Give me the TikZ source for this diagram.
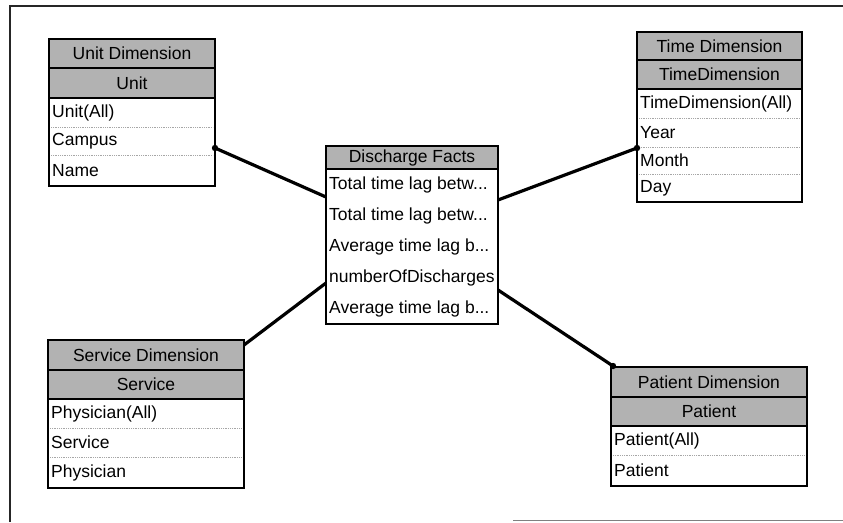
\documentclass[tikz,border=0pt]{standalone}
\usepackage{fontspec}
\setmainfont{Liberation Sans}
\begin{document}
\begin{tikzpicture}[x=1pt,y=-1pt,
  frame/.style={draw=black!85, line width=1.5pt},
  tbl/.style={draw=black, fill=white, line width=1.5pt, anchor=north west, inner sep=0pt, outer sep=0pt},
  hdr/.style={fill=black!30, draw=black, line width=1.3pt, anchor=north west, inner sep=0pt, outer sep=0pt, font=\fontsize{17.5}{19}\selectfont},
  itm/.style={anchor=west, inner sep=0pt, font=\fontsize{17.5}{19}\selectfont},
  sep/.style={draw=black!35, densely dotted, line width=0.8pt},
  link/.style={draw=black, line width=3.2pt},
  knob/.style={fill=black}
]
\useasboundingbox (0,0) rectangle (843,522);
% frame
\draw[frame] (10,522) -- (10,6) -- (843,6);
\draw[draw=black!50, line width=1.2pt] (513,520.5) -- (843,520.5);

% Unit Dimension
\node[tbl, minimum width=166pt, minimum height=147pt] (unit) at (49,39) {};
\node[hdr, minimum width=166pt, minimum height=29pt] (unith) at (49,39) {Unit Dimension};
\node[hdr, minimum width=166pt, minimum height=30pt] (unitl) at (49,68) {Unit};
\node[itm] (unit1) at (52,112.5) {Unit(All)};
\node[itm] (unit2) at (52,141) {Campus};
\node[itm] (unit3) at (52,170.5) {Name};
\draw[sep] (51,127) -- (213,127);
\draw[sep] (51,155) -- (213,155);

% Time Dimension
\node[tbl, minimum width=165pt, minimum height=170pt] (time) at (637,32) {};
\node[hdr, minimum width=165pt, minimum height=28pt] (timeh) at (637,32) {Time Dimension};
\node[hdr, minimum width=165pt, minimum height=29pt] (timel) at (637,60) {TimeDimension};
\node[itm] (time1) at (640,103.5) {TimeDimension(All)};
\node[itm] (time2) at (640,132.5) {Year};
\node[itm] (time3) at (640,160.5) {Month};
\node[itm] (time4) at (640,188) {Day};
\draw[sep] (639,118) -- (800,118);
\draw[sep] (639,147) -- (800,147);
\draw[sep] (639,174) -- (800,174);

% Discharge Facts
\node[tbl, minimum width=172pt, minimum height=178pt] (facts) at (326,146) {};
\node[hdr, minimum width=172pt, minimum height=23pt] (factsh) at (326,146) {Discharge Facts};
\node[itm] (facts1) at (329,184.5) {Total time lag betw...};
\node[itm] (facts2) at (329,215.5) {Total time lag betw...};
\node[itm] (facts3) at (329,246.5) {Average time lag b...};
\node[itm] (facts4) at (329,277.5) {numberOfDischarges};
\node[itm] (facts5) at (329,308.5) {Average time lag b...};

% Service Dimension
\node[tbl, minimum width=196pt, minimum height=148pt] (service) at (48,340) {};
\node[hdr, minimum width=196pt, minimum height=30pt] (serviceh) at (48,340) {Service Dimension};
\node[hdr, minimum width=196pt, minimum height=29pt] (servicel) at (48,370) {Service};
\node[itm] (service1) at (51,413.5) {Physician(All)};
\node[itm] (service2) at (51,442.5) {Service};
\node[itm] (service3) at (51,472.5) {Physician};
\draw[sep] (50,428) -- (242,428);
\draw[sep] (50,457) -- (242,457);

% Patient Dimension
\node[tbl, minimum width=196pt, minimum height=119pt] (patient) at (611,367) {};
\node[hdr, minimum width=196pt, minimum height=30pt] (patienth) at (611,367) {Patient Dimension};
\node[hdr, minimum width=196pt, minimum height=29pt] (patientl) at (611,397) {Patient};
\node[itm] (patient1) at (614,440.5) {Patient(All)};
\node[itm] (patient2) at (614,470.5) {Patient};
\draw[sep] (613,455) -- (805,455);

% connectors
\coordinate (cu) at ([yshift=-109pt]unit.north east);
\coordinate (ct) at ([yshift=-116pt]time.north west);
\coordinate (cs) at ([yshift=-5pt]service.north east);
\coordinate (cp) at ([xshift=2pt,yshift=1pt]patient.north west);
\draw[link] ([yshift=-51pt]facts.north west) -- (cu);
\draw[link] ([yshift=-54pt]facts.north east) -- (ct);
\draw[link] ([yshift=-137pt]facts.north west) -- (cs);
\draw[link] ([yshift=-144pt]facts.north east) -- (cp);
\fill[knob] (cu) circle (3.2pt);
\fill[knob] (ct) circle (3.2pt);
\fill[knob] (cp) circle (3.2pt);
\end{tikzpicture}
\end{document}
